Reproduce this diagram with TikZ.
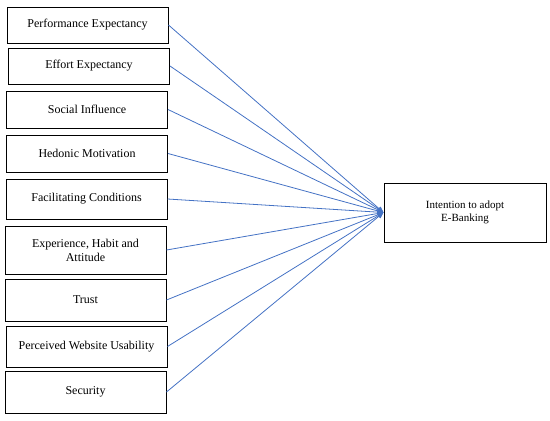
\documentclass[tikz,border=0pt]{standalone}
\usepackage{fontspec}
\setmainfont{Liberation Serif}
\usetikzlibrary{arrows.meta}
\definecolor{linkblue}{RGB}{68,114,196}

\begin{document}
\begin{tikzpicture}[x=1pt, y=-1pt,
  factor/.style={draw, line width=1pt, minimum width=161pt, inner sep=2pt,
    align=center, font=\fontsize{12}{14}\selectfont},
  link/.style={linkblue, line width=0.8pt, -{Triangle[length=6pt, width=5pt]}}]
  \useasboundingbox (0,0) rectangle (550,421);
  % predictors
  \node[factor, minimum height=36pt] (pe) at (87.5,25) {Performance Expectancy};
  \node[factor, minimum height=36pt] (ee) at (89,66) {Effort Expectancy};
  \node[factor, minimum height=37pt] (si) at (87,109.5) {Social Influence};
  \node[factor, minimum height=37pt] (hm) at (87,153.5) {Hedonic Motivation};
  \node[factor, minimum height=40pt] (fc) at (86.5,199) {Facilitating Conditions};
  \node[factor, minimum height=48pt] (eha) at (85.5,250) {Experience, Habit and\\Attitude};
  \node[factor, minimum height=42pt] (tr) at (85.5,300) {Trust};
  \node[factor, minimum height=41pt] (pwu) at (86.5,346.5) {Perceived Website Usability};
  \node[factor, minimum height=42pt] (sec) at (85.5,392) {Security};
  % outcome
  \node[factor, minimum width=162pt, minimum height=59pt,
    font=\fontsize{11}{13}\selectfont] (ieb) at (465,212.5) {Intention to adopt\\E-Banking};
  \foreach \src in {pe,ee,si,hm,fc,eha,tr,pwu,sec}
    \draw[link] (\src.east) -- (ieb.west);
\end{tikzpicture}
\end{document}
